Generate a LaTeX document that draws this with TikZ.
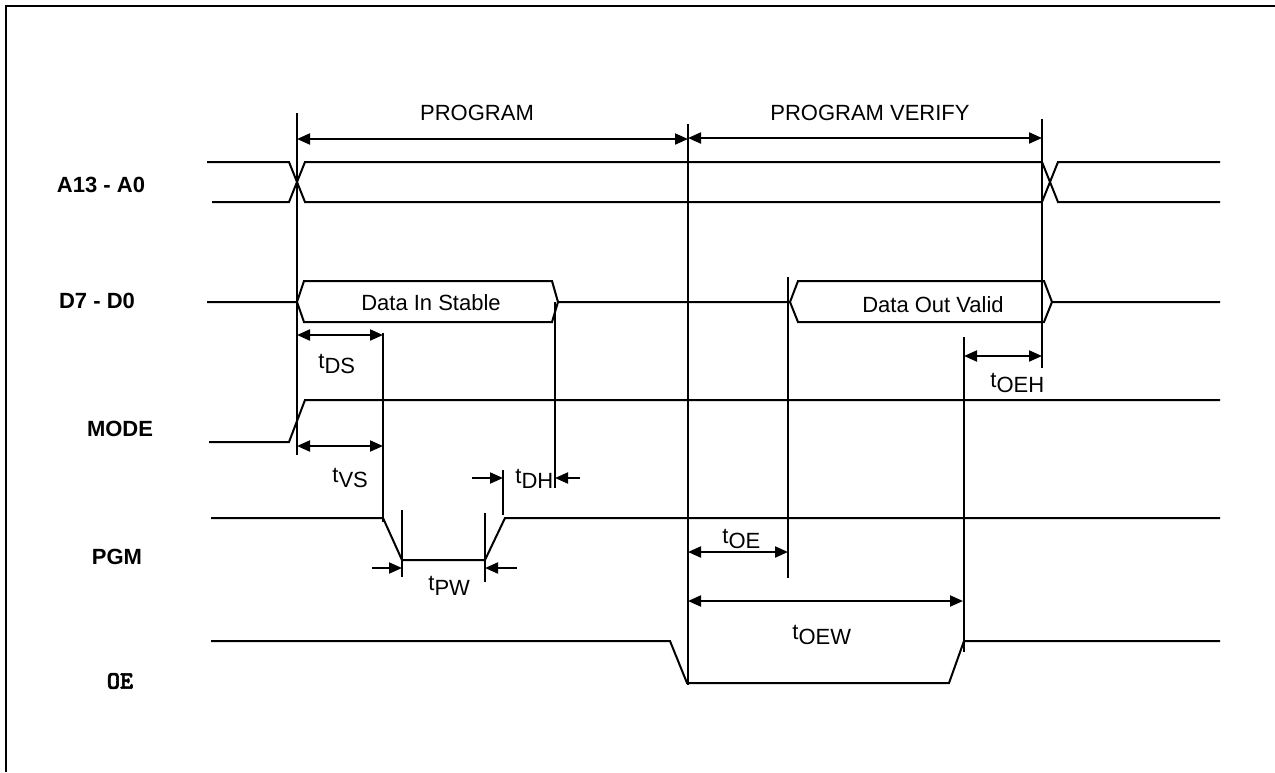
\documentclass[tikz,border=0pt]{standalone}
\usepackage{fontspec}
\setmainfont{Liberation Sans}
\newfontfamily\oefont[FakeBold=2.5]{lmmonolt10-bold.otf}
\usepackage{tikz}
\usetikzlibrary{arrows.meta,positioning}

\tikzset{
  sig/.style={line width=1pt},
  dimarrow/.style={line width=1pt,{Triangle[length=6.5pt,width=5.5pt]}-{Triangle[length=6.5pt,width=5.5pt]}},
  inarrow/.style={line width=1pt,-{Triangle[length=6.5pt,width=5.5pt]}},
  siglabel/.style={font=\bfseries\fontsize{11}{13}\selectfont},
  tlabel/.style={font=\fontsize{11}{13}\selectfont,inner sep=0pt,anchor=base west},
}
\newcommand{\tname}[1]{t\raisebox{-2.5pt}{#1}}

\begin{document}
\begin{tikzpicture}[x=0.5pt,y=-0.5pt]
    \useasboundingbox (0,0) rectangle (1275,772);
    \draw[line width=1pt] (6,772) -- (6,6) -- (1275,6);
    % Signal names
    \foreach \n/\x/\y/\t in {A/101/185/A13 - A0,D/97/301/D7 - D0,M/120/429/MODE,P/117/557/PGM} {
      \node[siglabel] (name\n) at (\x,\y) {\t};
    }
    \node[font=\oefont\fontsize{12.5}{14}\selectfont] (nameO) at (120,681) {OE};
    % Phases
    \node[font=\fontsize{11}{13}\selectfont] (program) at (477,113) {PROGRAM};
    \node[font=\fontsize{11}{13}\selectfont] (verify) at (870,113) {PROGRAM VERIFY};
    \draw[dimarrow] (297,139) -- (688,139);
    \draw[dimarrow] (688,138) -- (1042,138);
    % Address bus
    \draw[sig] (207,162) -- (289,162) -- (305,202) -- (1042,202) -- (1058,162) -- (1220,162);
    \draw[sig] (212,202) -- (289,202) -- (305,162) -- (1042,162) -- (1058,202) -- (1220,202);
    % Data bus
    \draw[sig] (207,302) -- (297,302) -- (304,281) -- (552,281) -- (558,302) -- (790,302)
      -- (798,281) -- (1044,281) -- (1052,302) -- (1220,302);
    \draw[sig] (297,302) -- (304,322) -- (552,322) -- (558,302);
    \draw[sig] (790,302) -- (798,322) -- (1044,322) -- (1052,302);
    \node[font=\fontsize{11}{13}\selectfont] (datain) at (431,303) {Data In Stable};
    \node[font=\fontsize{11}{13}\selectfont] (dataout) at (933,305) {Data Out Valid};
    % MODE, PGM, OE
    \draw[sig] (209,442) -- (289,442) -- (305,400) -- (1220,400);
    \draw[sig] (211,518) -- (383,518) -- (402,560) -- (485,560) -- (505,518) -- (1220,518);
    \draw[sig] (211,641) -- (670,641) -- (687,683) -- (949,683) -- (964,641) -- (1220,641);
    % Reference lines
    \foreach \x/\ya/\yb in {297/113/455,688/124/685,1042/119/368,383/333/522,555/302/488,
                            402/510/577,485/513/582,503/470/515,788/277/578,964/337/652} {
      \draw[sig] (\x,\ya) -- (\x,\yb);
    }
    % Timing arrows
    \foreach \xa/\xb/\y in {297/383/335,297/383/446,688/788/552,688/963/601,964/1042/356} {
      \draw[dimarrow] (\xa,\y) -- (\xb,\y);
    }
    \draw[inarrow] (372,568) -- (402,568);
    \draw[inarrow] (517,568) -- (485,568);
    \draw[inarrow] (472,478) -- (503,478);
    \draw[inarrow] (580,478) -- (555,478);
    % Timing names
    \node[tlabel] (tds) at (318,368) {\tname{DS}};
    \node[tlabel] (tvs) at (332,482) {\tname{VS}};
    \node[tlabel] (tdh) at (515,483) {\tname{DH}};
    \node[tlabel] (tpw) at (428,590) {\tname{PW}};
    \node[tlabel] (toe) at (722,543) {\tname{OE}};
    \node[tlabel] (toew) at (792,639) {\tname{OEW}};
    \node[tlabel] (toeh) at (990,387) {\tname{OEH}};
  \end{tikzpicture}
\end{document}
